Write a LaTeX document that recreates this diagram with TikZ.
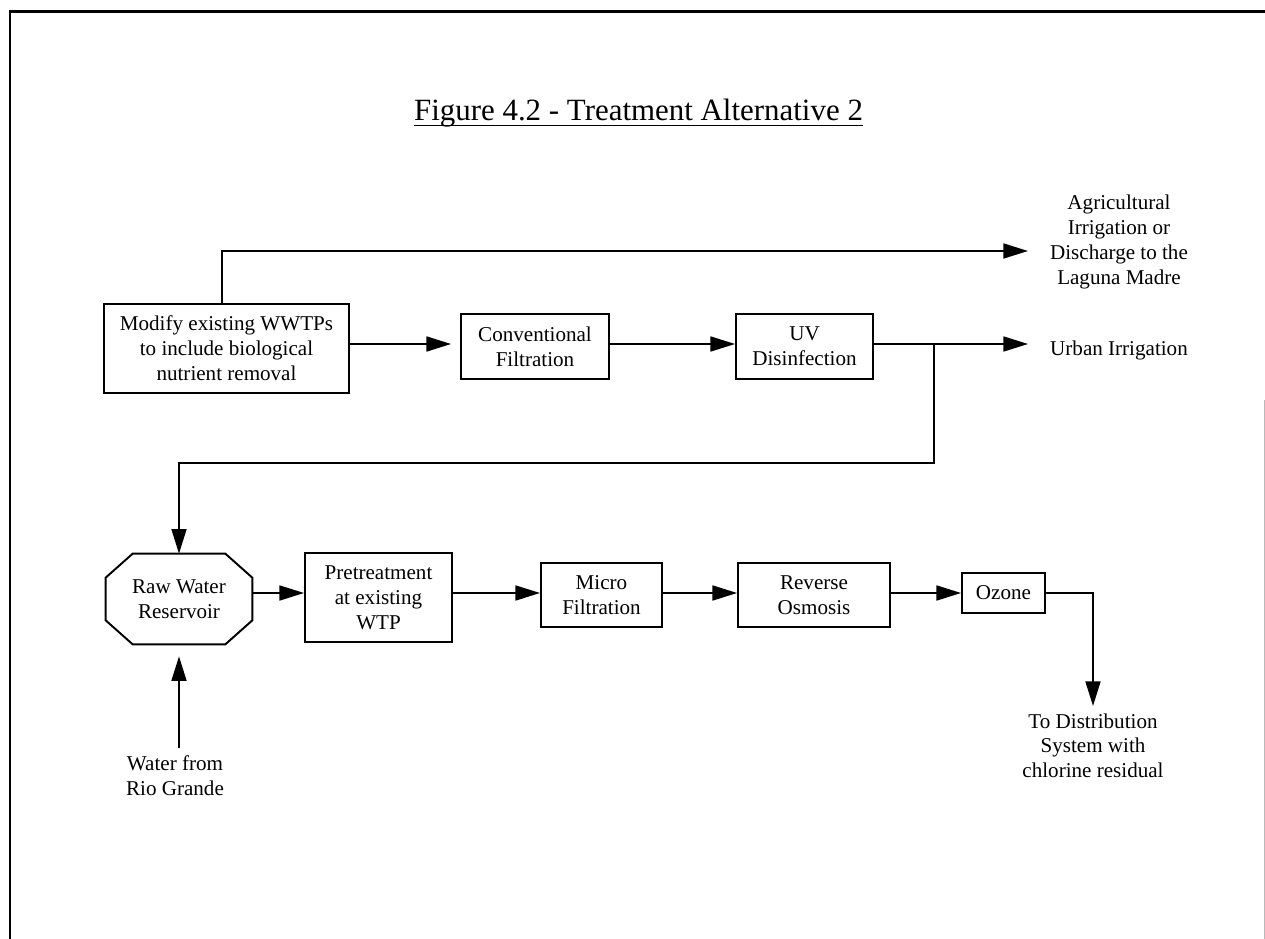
\documentclass[tikz,border=0pt]{standalone}
\usepackage{fontspec}
\setmainfont{Liberation Serif}
\usetikzlibrary{arrows.meta,calc}
\newcommand{\diagfont}{\fontsize{12}{14.2}\selectfont}
\begin{document}
\begin{tikzpicture}[x=0.02cm,y=-0.02cm,
  flow/.style={line width=1.1pt,-{Triangle[length=14pt,width=8.5pt]}},
  stepbox/.style={draw,line width=1.1pt,align=center,inner sep=1pt,font=\diagfont},
  lbl/.style={align=center,inner sep=0pt,font=\diagfont},
  outline/.style={line width=1.1pt},
]
\useasboundingbox (0,0) rectangle (1265,939);
\fill[white] (0,0) rectangle (1265,939);

% page frame
\draw[line width=1.7pt] (10,939) -- (10,11.5) -- (1265,11.5);
\draw[gray!55,line width=0.5pt] (1264,400) -- (1264,939);

% title
\node[font=\fontsize{17.6}{20}\selectfont,inner sep=0pt,anchor=base] (title) at (638.5,121) {Figure 4.2 - Treatment Alternative 2};
\draw[line width=1.1pt] ($(title.base west)+(0,4.5)$) -- ($(title.base east)+(0,4.5)$);

% wastewater treatment train
\node[stepbox,minimum width=4.9cm,minimum height=1.78cm] (mod) at (226.5,348.5) {Modify existing WWTPs\\to include biological\\nutrient removal};
\node[stepbox,minimum width=2.96cm,minimum height=1.3cm] (conv) at (535,346.5) {Conventional\\Filtration};
\node[stepbox,minimum width=2.74cm,minimum height=1.3cm] (uv) at (804.5,346.5) {UV\\Disinfection};

% reuse destinations
\node[lbl,anchor=north] (agri) at (1119,195) {Agricultural\\Irrigation or\\Discharge to the\\Laguna Madre};
\node[lbl,anchor=north] (urban) at (1119,341) {Urban Irrigation};

% drinking water treatment train
\node[lbl,minimum width=2.92cm,minimum height=1.8cm] (res) at (179,599) {Raw Water\\Reservoir};
\draw[outline] ([xshift=0.54cm]res.north west) -- ([xshift=-0.54cm]res.north east)
  -- ([yshift=-0.48cm]res.north east) -- ([yshift=0.48cm]res.south east)
  -- ([xshift=-0.54cm]res.south east) -- ([xshift=0.54cm]res.south west)
  -- ([yshift=0.48cm]res.south west) -- ([yshift=-0.48cm]res.north west) -- cycle;
\node[stepbox,minimum width=2.94cm,minimum height=1.78cm] (pre) at (378.5,597.5) {Pretreatment\\at existing\\WTP};
\node[stepbox,minimum width=2.42cm,minimum height=1.28cm] (micro) at (601.5,595) {Micro\\Filtration};
\node[stepbox,minimum width=3.04cm,minimum height=1.28cm] (ro) at (814,595) {Reverse\\Osmosis};
\node[stepbox,minimum width=1.66cm,minimum height=0.8cm] (oz) at (1003.5,593) {Ozone};

\node[lbl,anchor=north,inner sep=4pt] (river) at (175,748) {Water from\\Rio Grande};
\node[lbl,anchor=north,inner sep=4pt] (dist) at (1093,706) {To Distribution\\System with\\chlorine residual};

% flow rows and free ends
\coordinate (rowA) at (0,344);
\coordinate (rowB) at (0,593);
\coordinate (agritip) at (1028,251);
\coordinate (urbtip) at (1028,344);
\coordinate (j) at (934,344);
\coordinate (loop) at (934,463);

% connectors
\draw[flow] ([xshift=-0.09cm]mod.north) |- (agritip);
\draw[flow,shorten >=0.18cm] (mod.east |- rowA) -- (conv.west |- rowA);
\draw[flow] (conv.east |- rowA) -- (uv.west |- rowA);
\draw[flow] (uv.east |- rowA) -- (urbtip);
\draw[flow] (j) -- (loop) -| (res.north);
\draw[flow] (res.east |- rowB) -- (pre.west |- rowB);
\draw[flow] (pre.east |- rowB) -- (micro.west |- rowB);
\draw[flow] (micro.east |- rowB) -- (ro.west |- rowB);
\draw[flow] (ro.east |- rowB) -- (oz.west |- rowB);
\draw[flow] (oz.east) -| (dist.north);
\draw[flow,shorten >=0.24cm] (res.south |- river.north) -- (res.south);
\end{tikzpicture}
\end{document}
